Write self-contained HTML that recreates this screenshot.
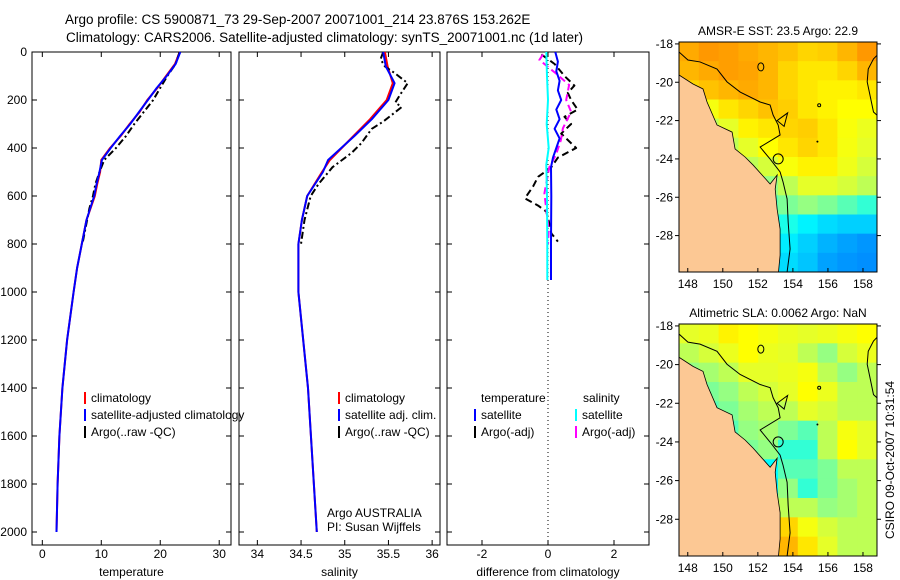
<!DOCTYPE html>
<html><head><meta charset="utf-8"><style>
html,body{margin:0;padding:0;background:#fff;}
svg{display:block;font-family:"Liberation Sans",sans-serif;}
text{font-size:12px;fill:#000;}
</style></head><body>
<svg id="fig" width="900" height="580" xmlns="http://www.w3.org/2000/svg">
<text x="65" y="24" style="font-size:13.5px">Argo profile: CS 5900871_73 29-Sep-2007 20071001_214 23.876S 153.262E</text>
<text x="66" y="42" style="font-size:13.5px">Climatology: CARS2006. Satellite-adjusted climatology: synTS_20071001.nc (1d later)</text>
<text transform="translate(894,460) rotate(-90)" text-anchor="middle">CSIRO 09-Oct-2007 10:31:54</text>
</svg>
<script>
// ---- profile data ----
const tDepth = [0,50,100,150,200,250,300,350,400,450,500,550,600,700,800,900,1000,1200,1400,1600,1800,2000];
const tClim  = [23.3,22.5,21,19.5,17.8,16.5,14.8,13.3,11.5,10,9.8,9.3,8.9,7.5,6.7,5.9,5.3,4.2,3.4,2.9,2.6,2.4];
const tSat   = [23.4,22.6,21.1,19.4,17.9,16.4,14.9,13.2,11.6,10.1,9.7,9.2,8.8,7.5,6.7,5.9,5.3,4.2,3.4,2.9,2.6,2.4];
const tArgoDepth = [0,50,100,150,200,250,300,350,400,450,500,550,600,650,700,800];
const tArgo = [23.3,22.6,21.2,20,18.8,17.2,15.6,14.2,12.5,10.5,9.7,9,8.6,8,7.6,6.8];
const sDepth = [0,60,130,200,280,350,450,500,600,700,800,1000,1400,2000];
const sClim  = [35.46,35.49,35.55,35.48,35.29,35.10,34.83,34.74,34.57,34.51,34.47,34.47,34.58,34.68];
const sSat   = [35.44,35.47,35.57,35.50,35.31,35.11,34.81,34.75,34.57,34.51,34.47,34.47,34.58,34.68];
const sArgoDepth = [0,30,60,90,130,180,210,230,290,320,380,420,480,550,600,700,800];
const sArgo = [35.44,35.41,35.46,35.58,35.72,35.63,35.58,35.65,35.44,35.31,35.19,35.08,34.86,34.70,34.61,34.54,34.5];
// ---- differences ----
const dSatTDepth = [0,40,80,120,160,200,240,280,320,360,400,440,480,600,800,950];
const dSatT = [0.22,0.3,0.25,0.35,0.3,0.4,0.25,0.35,0.2,0.35,0.25,0.15,0.09,0.1,0.09,0.09];
const dArgoTDepth = [10,50,100,140,170,200,240,270,300,340,400,440,480,520,560,610,640,665,720,756,790];
const dArgoT = [-0.2,0.2,0.5,0.8,0.6,0.7,0.9,0.5,0.7,0.4,0.85,0.3,0.1,-0.3,-0.45,-0.7,-0.3,-0.05,0.05,0.1,0.3];
const dSatSDepth = [0,100,200,300,400,470,600,800,950];
const dSatS = [-0.05,-0.03,0.0,-0.04,0.02,-0.05,-0.03,-0.02,-0.02];
const dArgoSDepth = [10,33,89,137,200,249,318,367,429,480,589,741,800];
const dArgoS = [-0.15,-0.26,0.24,0.64,0.55,0.7,0.45,0.39,0.24,0.04,-0.11,0.02,0.0];
// ---- map data ----
const lonTicks = [148,150,152,154,156,158];
const latTicks = [-18,-20,-22,-24,-26,-28];
const sstGrid = [
[.82,.85,.84,.82,.8,.78,.75,.76,.8,.85],
[.8,.82,.84,.83,.8,.75,.72,.72,.75,.8],
[.75,.78,.8,.82,.8,.75,.72,.7,.7,.72],
[.6,.65,.72,.75,.78,.76,.72,.7,.68,.68],
[.5,.55,.6,.7,.72,.75,.76,.72,.66,.62],
[.45,.5,.55,.6,.68,.72,.75,.72,.65,.6],
[.45,.45,.5,.55,.58,.66,.7,.7,.63,.58],
[.4,.4,.45,.5,.5,.55,.6,.6,.58,.55],
[.4,.4,.4,.42,.45,.48,.5,.48,.45,.42],
[.4,.4,.4,.4,.42,.4,.36,.32,.3,.3],
[.4,.4,.4,.38,.38,.35,.3,.25,.22,.2],
[.4,.4,.4,.32,.35,.32,.28,.22,.2,.18]];
const slaGrid = [
[.6,.62,.7,.68,.65,.62,.6,.62,.65,.68],
[.55,.58,.62,.68,.62,.6,.55,.5,.58,.62],
[.5,.52,.55,.6,.6,.62,.65,.55,.5,.55],
[.45,.48,.5,.55,.58,.6,.68,.62,.55,.55],
[.45,.45,.48,.52,.55,.55,.6,.58,.55,.55],
[.45,.45,.45,.5,.52,.48,.45,.55,.65,.6],
[.45,.45,.45,.48,.5,.42,.42,.55,.68,.6],
[.45,.45,.45,.45,.38,.45,.45,.48,.55,.55],
[.45,.45,.45,.42,.35,.5,.42,.48,.52,.55],
[.5,.5,.5,.5,.52,.55,.55,.5,.52,.55],
[.55,.55,.55,.55,.6,.75,.65,.58,.55,.55],
[.55,.55,.55,.55,.62,.8,.72,.6,.55,.55]];
const coastLon = [147.5,148.3,148.87,149.1,149.67,150.53,150.7,151.27,151.73,152.24,152.7,153.1,152.99,153.1,153.27,153.27,153.16];
const coastLat = [-19.62,-20.09,-20.35,-21.03,-22.23,-22.6,-23.48,-23.9,-24.32,-24.84,-25.31,-24.84,-25.57,-26.62,-27.66,-29.02,-30.06];
const isoLon = [147.5,148.01,148.7,149.67,150.24,150.99,152.13,152.7,152.87,153.16,153.27,152.13,152.7,153.27,153.44,153.67,153.73,153.84,153.67];
const isoLat = [-18.42,-18.84,-18.94,-19.31,-19.98,-20.51,-21.03,-21.19,-21.71,-22.23,-22.75,-23.38,-24.01,-24.68,-25.21,-26.09,-27.29,-28.7,-29.9];
const iso2Lon = [158.9,158.6,158.3,158.24,158.6,158.9];
const iso2Lat = [-18.5,-18.78,-19.31,-19.98,-21.55,-21.8];

const NS='http://www.w3.org/2000/svg';
const svg=document.getElementById('fig');
function mk(tag,attrs,parent){const e=document.createElementNS(NS,tag);for(const k in attrs)e.setAttribute(k,attrs[k]);(parent||svg).appendChild(e);return e;}
function txt(x,y,s,anchor,parent){const t=mk('text',{x:x,y:y,'text-anchor':anchor||'start'},parent);t.textContent=s;return t;}

const Y0=52, YS=0.24, PT=52, PB=545;
const yD=d=>Y0+d*YS;
function panel(name,x0,x1,xmin,xmax,ticks,tickLabels,xlabel,showY){
  const g=mk('g',{});
  
  
  const sx=v=>x0+(v-xmin)/(xmax-xmin)*(x1-x0);
  const fr=mk('rect',{x:x0,y:PT,width:x1-x0,height:PB-PT,fill:'none',stroke:'#000','stroke-width':1},g);
  
  
  ticks.forEach((v,i)=>{
    const x=sx(v);
    mk('line',{x1:x,x2:x,y1:PB,y2:PB-5,stroke:'#000'},g);
    mk('line',{x1:x,x2:x,y1:PT,y2:PT+5,stroke:'#000'},g);
    const t=txt(x,558,tickLabels[i],'middle',g);
    
    
  });
  for(let d=0;d<=2000;d+=200){
    const y=yD(d);
    mk('line',{x1:x0,x2:x0+5,y1:y,y2:y,stroke:'#000'},g);
    mk('line',{x1:x1,x2:x1-5,y1:y,y2:y,stroke:'#000'},g);
    if(showY){const t=txt(x0-5,y+4,String(d),'end',g);
      
      }
  }
  const xl=txt((x0+x1)/2,576,xlabel,'middle',g);
  
  
  return {g,sx};
}
function line(p,vals,depths,color,w,dash,nm){
  const pts=vals.map((v,i)=>p.sx(v).toFixed(1)+','+yD(depths[i]).toFixed(1)).join(' ');
  const a={points:pts,fill:'none',stroke:color,'stroke-width':w,'stroke-linejoin':'round'};
  if(dash)a['stroke-dasharray']=dash;
  const e=mk('polyline',a,p.g);
  
  
}
function legend(g,x,y,color,label,nm){
  mk('rect',{x:x,y:y-10,width:2,height:12,fill:color},g);
  const t=txt(x+7,y,label,'start',g);
  
  
}
// temperature
const pT=panel('temperature',32,231,-1.75,32,[0,10,20,30],['0','10','20','30'],'temperature',true);
line(pT,tClim,tDepth,'#f00',2,null,'temperature-climatology-line');
line(pT,tArgo,tArgoDepth,'#000',2,'7,3,2,3','temperature-argo-line');
line(pT,tSat,tDepth,'#00f',2,null,'temperature-satellite-line');
legend(pT.g,84,402,'#f00','climatology','legend-climatology');
legend(pT.g,84,419,'#00f','satellite-adjusted climatology','legend-satellite-adjusted');
legend(pT.g,84,436,'#000','Argo(..raw -QC)','legend-argo');
// salinity
const pS=panel('salinity',239,440,33.79,36.09,[34,34.5,35,35.5,36],['34','34.5','35','35.5','36'],'salinity',false);
line(pS,sClim,sDepth,'#f00',2,null,'salinity-climatology-line');
line(pS,sArgo,sArgoDepth,'#000',2,'7,3,2,3','salinity-argo-line');
line(pS,sSat,sDepth,'#00f',2,null,'salinity-satellite-line');
legend(pS.g,338,402,'#f00','climatology','legend-s-climatology');
legend(pS.g,338,419,'#00f','satellite adj. clim.','legend-s-satellite');
legend(pS.g,338,436,'#000','Argo(..raw -QC)','legend-s-argo');
let t1=txt(327,517,'Argo AUSTRALIA','start',pS.g);


let t2=txt(327,531,'PI: Susan Wijffels','start',pS.g);


// difference
const pD=panel('difference',447,649,-3.06,3.06,[-2,0,2],['-2','0','2'],'difference from climatology',false);
mk('line',{x1:pD.sx(0),x2:pD.sx(0),y1:PT,y2:PB,stroke:'#000','stroke-dasharray':'1,3'},pD.g);
line(pD,dArgoT,dArgoTDepth,'#000',2,'7,4','diff-argo-temperature-line');
line(pD,dArgoS,dArgoSDepth,'#f0f',2,'7,4','diff-argo-salinity-line');
line(pD,dSatT,dSatTDepth,'#00f',2,null,'diff-satellite-temperature-line');
line(pD,dSatS,dSatSDepth,'#0ff',2,null,'diff-satellite-salinity-line');
let lt=txt(481,402,'temperature','start',pD.g);


let ls=txt(583,402,'salinity','start',pD.g);


legend(pD.g,474,419,'#00f','satellite','legend-d-t-satellite');
legend(pD.g,474,436,'#000','Argo(-adj)','legend-d-t-argo');
legend(pD.g,575,419,'#0ff','satellite','legend-d-s-satellite');
legend(pD.g,575,436,'#f0f','Argo(-adj)','legend-d-s-argo');

// maps
function cmap(v){
  const stops=[[0,[0,80,255]],[0.2,[0,150,255]],[0.38,[0,255,255]],[0.5,[150,255,130]],[0.6,[230,255,40]],[0.68,[255,255,0]],[0.82,[255,170,0]],[1,[255,60,0]]];
  for(let i=1;i<stops.length;i++){if(v<=stops[i][0]){const a=stops[i-1],b=stops[i];const f=(v-a[0])/(b[0]-a[0]);
    return 'rgb('+a[1].map((c,k)=>Math.round(c+(b[1][k]-c)*f)).join(',')+')';}}
  return 'rgb(255,60,0)';
}
function map(name,x0,x1,y0,y1,grid,title){
  const g=mk('g',{});
  
  
  const lon0=147.5,lon1=158.8,lat0=-17.9,lat1=-29.9;
  const sx=v=>x0+(v-lon0)/(lon1-lon0)*(x1-x0);
  const sy=v=>y0+(v-lat0)/(lat1-lat0)*(y1-y0);
  const clip='clip-'+name;
  const cp=mk('clipPath',{id:clip},g);mk('rect',{x:x0,y:y0,width:x1-x0,height:y1-y0},cp);
  const inner=mk('g',{'clip-path':'url(#'+clip+')'},g);
  const rows=grid.length,cols=grid[0].length;
  const cw=(x1-x0)/cols,ch=(y1-y0)/rows;
  grid.forEach((r,i)=>r.forEach((v,j)=>{
    const c=mk('rect',{x:x0+j*cw,y:y0+i*ch,width:cw+0.6,height:ch+0.6,fill:cmap(v)},inner);
    
    
  }));
  let pts=coastLon.map((l,i)=>sx(l)+','+sy(coastLat[i])).join(' ');
  pts+=' '+sx(147)+','+sy(-30.5)+' '+sx(147)+','+sy(-19.6);
  const land=mk('polygon',{points:pts,fill:'#fcc894',stroke:'#000','stroke-width':0.8},inner);
  
  
  const iso=mk('polyline',{points:isoLon.map((l,i)=>sx(l)+','+sy(isoLat[i])).join(' '),fill:'none',stroke:'#000','stroke-width':1},inner);
  
  
  mk('polyline',{points:iso2Lon.map((l,i)=>sx(l)+','+sy(iso2Lat[i])).join(' '),fill:'none',stroke:'#000','stroke-width':1},inner);
  mk('ellipse',{cx:sx(152.17),cy:sy(-19.2),rx:3,ry:4,fill:'none',stroke:'#000'},inner);
  mk('circle',{cx:sx(153.16),cy:sy(-24.0),r:5,fill:'none',stroke:'#000'},inner);
  mk('polygon',{points:[sx(153.1)+','+sy(-22.0),sx(153.7)+','+sy(-21.6),sx(153.5)+','+sy(-22.3)].join(' '),fill:'none',stroke:'#000'},inner);
  mk('circle',{cx:sx(155.5),cy:sy(-21.2),r:1.5,fill:'none',stroke:'#000'},inner);
  mk('circle',{cx:sx(155.4),cy:sy(-23.1),r:1,fill:'#000'},inner);
  mk('rect',{x:x0,y:y0,width:x1-x0,height:y1-y0,fill:'none',stroke:'#000'},g);
  lonTicks.forEach(l=>{const x=sx(l);
    mk('line',{x1:x,x2:x,y1:y1,y2:y1-4,stroke:'#000'},g);
    const t=txt(x,y1+16,String(l),'middle',g);
    
    });
  latTicks.forEach(l=>{const y=sy(l);
    mk('line',{x1:x1,x2:x1+4,y1:y,y2:y,stroke:'#000'},g);
    mk('line',{x1:x0,x2:x0-4,y1:y,y2:y,stroke:'#000'},g);
    const t=txt(x0-6,y+4,String(l),'end',g);
    
    });
  const tt=txt((x0+x1)/2,y0-7,title,'middle',g);
  
  
}
map('sst-map',679,877,42,272,sstGrid,'AMSR-E SST: 23.5 Argo: 22.9');
map('sla-map',679,877,324,556,slaGrid,'Altimetric SLA: 0.0062 Argo: NaN');
</script>
</body></html>
